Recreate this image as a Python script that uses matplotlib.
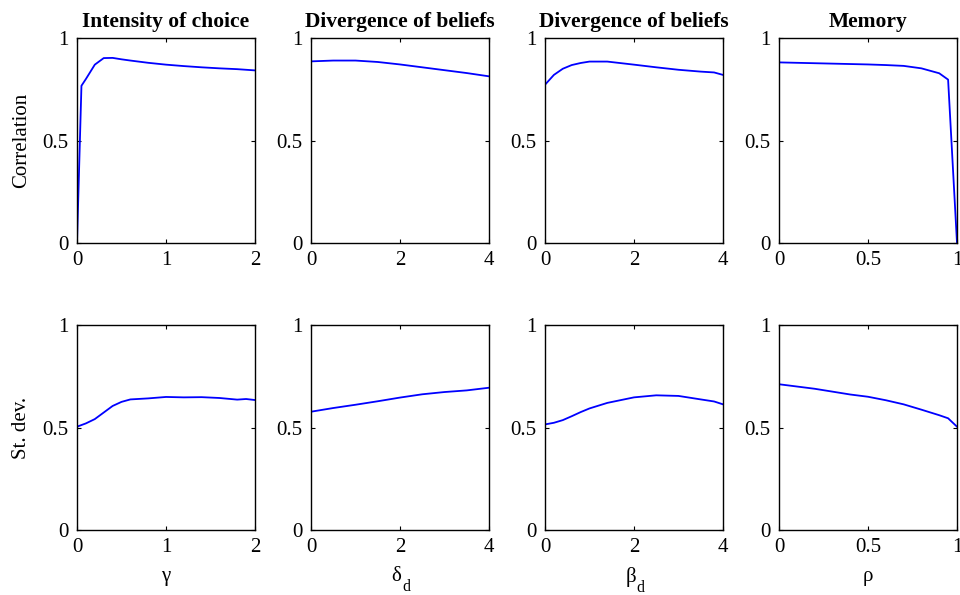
import numpy as np
import matplotlib
matplotlib.use("Agg")
import matplotlib.pyplot as plt

plt.rcParams['font.family'] = ['Liberation Serif', 'DejaVu Serif']

# Intensity of choice (gamma)
gamma = [0.0, 0.05, 0.1, 0.2, 0.3, 0.4, 0.5, 0.6, 0.8, 1.0, 1.2, 1.4, 1.6, 1.8, 1.9, 2.0]
gamma_corr = [0.0, 0.767, 0.80, 0.87, 0.902, 0.903, 0.896, 0.89, 0.879, 0.87, 0.863, 0.857, 0.852, 0.848, 0.845, 0.842]
gamma_std = [0.504, 0.512, 0.52, 0.541, 0.573, 0.605, 0.625, 0.637, 0.642, 0.649, 0.647, 0.648, 0.644, 0.636, 0.639, 0.634]

# Divergence of beliefs (delta_d)
delta = [0.0, 0.5, 1.0, 1.5, 2.0, 2.5, 3.0, 3.5, 4.0]
delta_corr = [0.886, 0.89, 0.89, 0.883, 0.871, 0.857, 0.843, 0.829, 0.813]
delta_std = [0.577, 0.595, 0.611, 0.628, 0.646, 0.662, 0.673, 0.681, 0.694]

# Divergence of beliefs (beta_d)
beta = [0.0, 0.2, 0.4, 0.6, 0.8, 1.0, 1.4, 2.0, 2.5, 3.0, 3.5, 3.8, 4.0]
beta_corr = [0.772, 0.82, 0.85, 0.868, 0.878, 0.885, 0.885, 0.87, 0.857, 0.845, 0.836, 0.832, 0.82]
beta_std = [0.515, 0.523, 0.536, 0.555, 0.575, 0.593, 0.620, 0.647, 0.657, 0.654, 0.637, 0.627, 0.613]

# Memory (rho)
rho = [0.0, 0.1, 0.2, 0.3, 0.4, 0.5, 0.6, 0.7, 0.8, 0.9, 0.95, 1.0]
rho_corr = [0.881, 0.879, 0.877, 0.875, 0.873, 0.871, 0.868, 0.864, 0.852, 0.828, 0.797, 0.0]
rho_std = [0.711, 0.700, 0.689, 0.675, 0.661, 0.650, 0.633, 0.613, 0.587, 0.560, 0.545, 0.504]

titles = ['Intensity of choice', 'Divergence of beliefs', 'Divergence of beliefs', 'Memory']
xlabels = ['γ', 'δ', 'β', 'ρ']
xsubs = ['', 'd', 'd', '']
xs = [gamma, delta, beta, rho]
corrs = [gamma_corr, delta_corr, beta_corr, rho_corr]
stds = [gamma_std, delta_std, beta_std, rho_std]
xmax = [2, 4, 4, 1]
xticks = [[0, 1, 2], [0, 2, 4], [0, 2, 4], [0, 0.5, 1]]
xticklabels = [['0', '1', '2'], ['0', '2', '4'], ['0', '2', '4'], ['0', '0.5', '1']]

W, H = 960, 595
fig = plt.figure(figsize=(W / 100, H / 100), dpi=100)

lefts = [77, 311, 545, 779]
aw, ah = 178, 205
tops = [38, 325]
fs = 15

def style(ax, col):
    ax.set_xlim(0, xmax[col])
    ax.set_ylim(0, 1)
    ax.set_xticks(xticks[col])
    ax.set_xticklabels(xticklabels[col])
    ax.set_yticks([0, 0.5, 1])
    ax.set_yticklabels(['0', '0.5', '1'])
    ax.tick_params(direction='in', length=3, width=0.8, top=True, right=True,
                   labelsize=fs, pad=6)
    for s in ax.spines.values():
        s.set_linewidth(1.0)

for row in range(2):
    for col in range(4):
        ax = fig.add_axes([lefts[col] / W, 1 - (tops[row] + ah) / H, aw / W, ah / H])
        ys = corrs[col] if row == 0 else stds[col]
        ax.plot(xs[col], ys, color='#0000ff', lw=1.3)
        style(ax, col)
        if row == 0:
            ax.set_title(titles[col], fontsize=fs + 0.5, fontweight='bold', pad=8)
        else:
            ax.set_xlabel(xlabels[col], fontsize=fs, labelpad=7)
            if xsubs[col]:
                ax.xaxis.label.set_x(0.48)
                ax.annotate(xsubs[col], xy=(1, 0.36), xycoords=ax.xaxis.label,
                            xytext=(0.5, 0), textcoords='offset points',
                            ha='left', va='top', fontsize=fs - 3.5)
        if col == 0:
            ax.set_ylabel('Correlation' if row == 0 else 'St. dev.', fontsize=fs, labelpad=8)

fig.savefig('out.png', dpi=100)
